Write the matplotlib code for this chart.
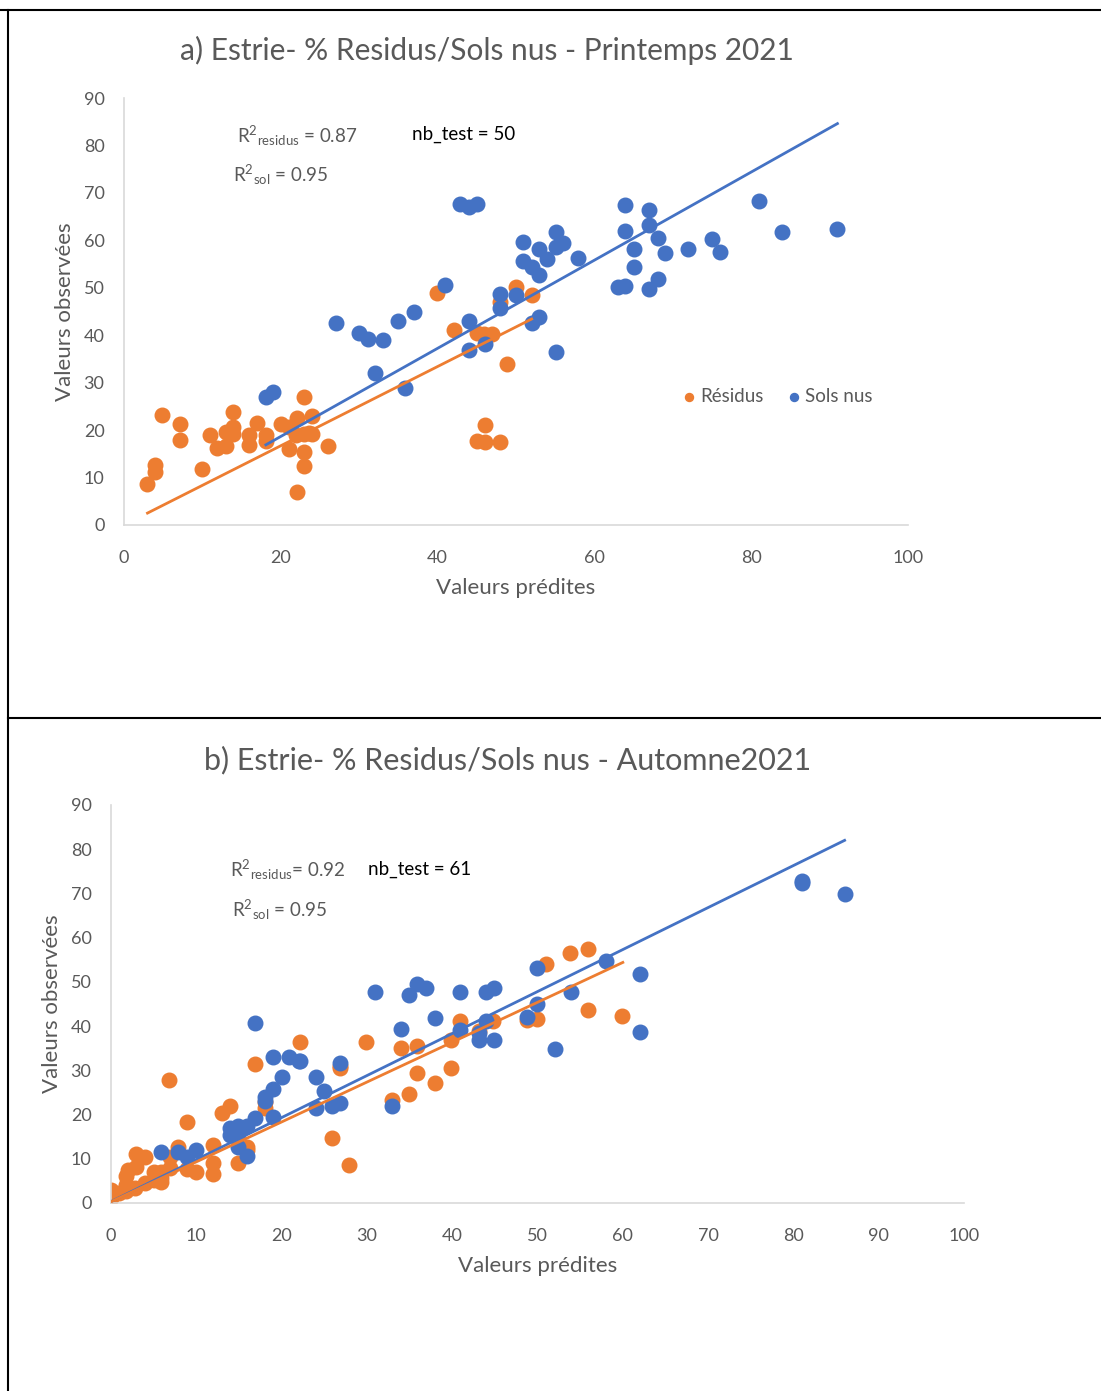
import matplotlib.pyplot as plt
from matplotlib.lines import Line2D

plt.rcParams['font.family'] = ['Lato', 'DejaVu Sans']
plt.rcParams['mathtext.default'] = 'regular'

orange = "#ED7D31"
blue = "#4472C4"
grey = "#595959"

# a) Printemps 2021
a_res_x = [3.0, 4.0, 4.0, 4.9, 7.1, 7.1, 10.0, 11.0, 11.9, 13.0, 13.0, 13.9, 13.9, 13.9,
           15.9, 15.9, 17.0, 18.1, 18.1, 20.0, 21.0, 21.0, 22.1, 22.1, 23.0, 23.0, 23.0,
           23.0, 24.0, 24.0, 22.0, 23.6, 26.0, 39.9, 42.1, 45.0, 45.9, 46.9, 48.0, 50.0,
           52.0, 48.9, 46.0, 45.0, 46.0, 48.0]
a_res_y = [8.6, 12.6, 11.1, 23.1, 21.3, 17.9, 11.8, 18.9, 16.3, 16.7, 19.7, 23.8, 20.7, 19.2,
           18.9, 16.8, 21.6, 18.9, 17.8, 21.3, 20.7, 16.1, 22.6, 7.0, 27.0, 19.1, 15.3,
           12.4, 22.9, 19.2, 19.0, 19.4, 16.6, 48.8, 41.1, 40.4, 40.3, 40.3, 47.1, 50.2,
           48.5, 33.9, 21.1, 17.7, 17.4, 17.4]
a_sol_x = [18.1, 19.0, 27.0, 30.0, 31.1, 33.0, 32.0, 35.0, 37.0, 41.0, 35.9, 42.9, 44.0, 45.0,
           44.0, 44.0, 46.0, 48.0, 48.0, 50.0, 50.9, 50.9, 52.0, 52.9, 52.9, 54.0, 55.1,
           55.1, 56.0, 57.9, 52.0, 52.9, 55.1, 63.0, 63.9, 63.9, 63.9, 65.0, 65.0, 67.0,
           67.0, 67.0, 68.1, 68.1, 69.0, 72.0, 75.0, 76.0, 81.0, 83.9, 91.0]
a_sol_y = [27.0, 28.0, 42.5, 40.4, 39.3, 38.9, 32.1, 42.9, 45.0, 50.6, 28.8, 67.7, 67.1, 67.7,
           42.9, 36.9, 38.2, 48.6, 45.7, 48.5, 59.6, 55.7, 54.4, 58.1, 52.7, 56.0, 61.7,
           58.7, 59.4, 56.3, 42.5, 43.9, 36.5, 50.1, 50.4, 67.5, 62.0, 58.1, 54.4, 66.4,
           63.2, 49.7, 60.4, 51.9, 57.3, 58.1, 60.2, 57.5, 68.3, 61.7, 62.3]
# trendlines: slope, intercept, x range
a_fit_res = (0.835, 0.0, 3.0, 52.0)
a_fit_sol = (0.929, 0.08, 18.1, 91.0)

# b) Automne 2021
b_res_x = [53.8, 55.9, 51.0, 55.9, 59.9, 49.9, 48.8, 44.8, 40.9, 43.1, 39.9, 29.9, 34.0, 35.9,
           35.9, 38.0, 39.9, 34.9, 33.0, 26.8, 25.9, 27.9, 22.2, 16.9, 6.8, 13.0, 14.0, 8.9,
           18.0, 15.9, 14.9, 12.0, 12.0, 12.0, 7.9, 2.9, 4.0, 8.9, 10.0, 6.9, 2.0, 2.9, 5.0,
           5.9, 5.0, 5.9, 6.9, 4.0, 1.8, 1.8, 2.8, 0.0, 0.0, 0.9, 1.8, 5.9, 18.0, 26.9, 16.0]
b_res_y = [56.5, 57.4, 54.0, 43.6, 42.3, 41.5, 41.4, 41.2, 41.2, 38.8, 36.9, 36.3, 35.0, 35.5,
           29.3, 27.1, 30.5, 24.6, 23.3, 30.5, 14.6, 8.6, 36.5, 31.4, 27.7, 20.3, 21.9, 18.3,
           21.4, 12.7, 9.0, 13.0, 9.0, 6.6, 12.7, 11.1, 10.3, 7.6, 6.9, 10.3, 7.5, 8.2, 7.1,
           7.1, 5.2, 5.6, 7.8, 4.5, 6.0, 4.1, 3.3, 2.9, 1.1, 2.2, 2.6, 4.8, 22.8, 31.0, 12.0]
b_sol_x = [30.9, 34.9, 35.9, 36.9, 40.9, 44.0, 44.9, 49.9, 58.0, 62.0, 62.0, 52.0, 53.9, 49.9,
           48.8, 38.0, 34.0, 40.9, 44.0, 43.1, 43.1, 44.9, 26.8, 22.2, 24.0, 25.0, 24.0, 25.9,
           26.9, 33.0, 16.9, 19.0, 20.9, 22.0, 20.0, 19.0, 18.0, 18.0, 19.0, 16.9, 13.9, 14.9,
           15.9, 13.9, 14.9, 14.9, 15.9, 5.9, 7.9, 8.9, 10.0, 81.0, 81.0, 86.0]
b_sol_y = [47.8, 47.0, 49.5, 48.7, 47.8, 47.8, 48.7, 53.1, 54.8, 51.7, 38.7, 34.8, 47.6, 45.0,
           42.1, 41.8, 39.3, 39.0, 41.2, 38.4, 36.9, 36.9, 31.7, 32.0, 28.4, 25.4, 21.4, 22.0,
           22.7, 22.0, 40.8, 33.1, 33.1, 32.1, 28.4, 25.7, 24.0, 23.1, 19.4, 19.2, 16.9, 17.3,
           17.4, 15.4, 15.6, 12.7, 10.6, 11.6, 11.6, 10.5, 12.0, 72.3, 72.8, 69.9]
b_fit_res = (0.902, 0.27, 0.0, 60.0)
b_fit_sol = (0.950, 0.3, 0.0, 86.0)


def trend(ax, fit, color):
    k, b, x0, x1 = fit
    ax.plot([x0, x1], [k * x0 + b, k * x1 + b], color=color, lw=2, zorder=4)


def style(ax, xstep):
    ax.set_xlim(0, 100)
    ax.set_ylim(0, 90)
    ax.set_xticks(range(0, 101, xstep))
    ax.set_yticks(range(0, 91, 10))
    for s in ["top", "right"]:
        ax.spines[s].set_visible(False)
    for s in ["left", "bottom"]:
        ax.spines[s].set_color("#d9d9d9")
        ax.spines[s].set_linewidth(1.2)
    ax.tick_params(length=0, labelsize=13, labelcolor=grey)
    ax.tick_params(axis="x", pad=18)
    ax.tick_params(axis="y", pad=14)
    ax.set_xlabel("Valeurs prédites", fontsize=16, color=grey, labelpad=9)
    ax.set_ylabel("Valeurs observées", fontsize=16, color=grey, labelpad=6)


fig = plt.figure(figsize=(11.01, 13.91), dpi=100)

ax1 = fig.add_axes([0.1126, 0.6226, 0.7121, 0.3069])
ax1.scatter(a_res_x, a_res_y, s=110, color=orange, zorder=2, label="Résidus")
ax1.scatter(a_sol_x, a_sol_y, s=110, color=blue, zorder=3, label="Sols nus")
trend(ax1, a_fit_res, orange)
trend(ax1, a_fit_sol, blue)
style(ax1, 20)
ax1.text(14.4, 82.0, r"R$^{2}$$_{residus}$ = 0.87", fontsize=13.5, color=grey, va="center")
ax1.text(13.9, 73.8, r"R$^{2}$$_{sol}$ = 0.95", fontsize=13.5, color=grey, va="center")
ax1.text(36.7, 82.4, "nb_test = 50", fontsize=13.5, color="black", va="center")
ax1.legend(loc="center left", bbox_to_anchor=(0.692, 0.30), ncol=2, frameon=False,
           markerscale=0.55, handlelength=0.6, handletextpad=0.3, columnspacing=1.3,
           fontsize=13.5, labelcolor=grey)
fig.text(0.4423, 0.964, "a) Estrie- % Residus/Sols nus - Printemps 2021", fontsize=21.5,
         color=grey, ha="center", va="center")

ax2 = fig.add_axes([0.1008, 0.1352, 0.7748, 0.2861])
ax2.scatter(b_res_x, b_res_y, s=110, color=orange, zorder=2)
ax2.scatter(b_sol_x, b_sol_y, s=110, color=blue, zorder=3)
trend(ax2, b_fit_sol, blue)
trend(ax2, b_fit_res, orange)
style(ax2, 10)
ax2.text(14.0, 75.3, r"R$^{2}$$_{residus}$= 0.92", fontsize=13.5, color=grey, va="center")
ax2.text(14.2, 66.3, r"R$^{2}$$_{sol}$ = 0.95", fontsize=13.5, color=grey, va="center")
ax2.text(30.1, 75.5, "nb_test = 61", fontsize=13.5, color="black", va="center")
fig.text(0.4614, 0.4536, "b) Estrie- % Residus/Sols nus - Automne2021", fontsize=22,
         color=grey, ha="center", va="center")

# table borders of the document
for line in [Line2D([0, 1], [0.9928, 0.9928]),
             Line2D([0.0073, 1], [0.4838, 0.4838]),
             Line2D([0.0073, 0.0073], [0, 0.9928])]:
    line.set_transform(fig.transFigure)
    line.set_color("black")
    line.set_linewidth(1.5)
    fig.add_artist(line)

fig.savefig("out.png", dpi=100)
